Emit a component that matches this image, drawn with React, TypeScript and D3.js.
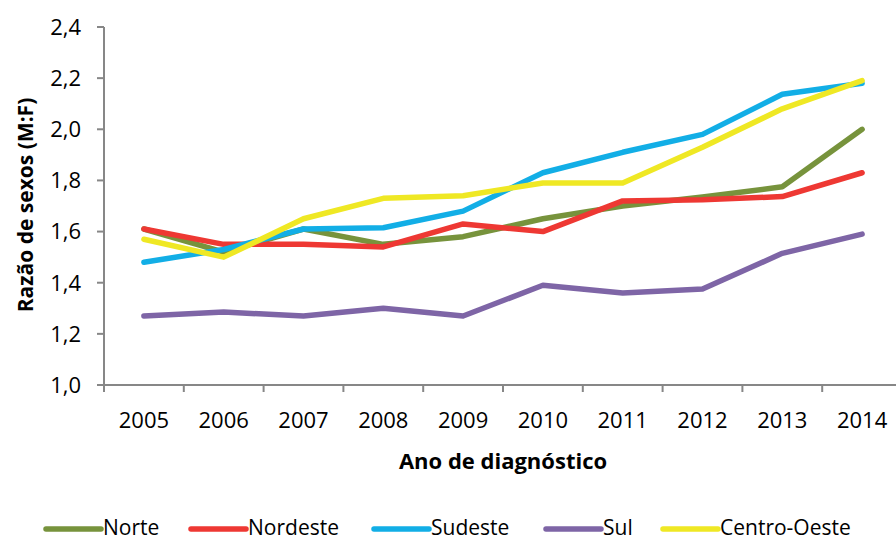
import React from "react";
import * as d3 from "d3";

const years = ["2005", "2006", "2007", "2008", "2009", "2010", "2011", "2012", "2013", "2014"];
const norte = [1.61, 1.52, 1.61, 1.55, 1.58, 1.65, 1.7, 1.735, 1.775, 2.0];
const nordeste = [1.61, 1.55, 1.55, 1.54, 1.63, 1.6, 1.72, 1.724, 1.737, 1.83];
const sudeste = [1.48, 1.53, 1.61, 1.615, 1.68, 1.83, 1.91, 1.98, 2.137, 2.18];
const sul = [1.27, 1.285, 1.27, 1.3, 1.27, 1.39, 1.36, 1.375, 1.515, 1.59];
const centroOeste = [1.57, 1.5, 1.65, 1.73, 1.74, 1.79, 1.79, 1.93, 2.08, 2.19];
const yTicks = [1.0, 1.2, 1.4, 1.6, 1.8, 2.0, 2.2, 2.4];

const series = [
  { name: "Norte", values: norte, color: "#77933C" },
  { name: "Nordeste", values: nordeste, color: "#EE3833" },
  { name: "Sudeste", values: sudeste, color: "#12AEE6" },
  { name: "Sul", values: sul, color: "#7E65A6" },
  { name: "Centro-Oeste", values: centroOeste, color: "#EFE824" },
];

// legend item start positions (line start)
const legendX = [46, 191, 374, 546, 663];

export default function App() {
  const W = 896, H = 542;
  const left = 104, top = 27, bottom = 385, right = 902;
  const x = d3.scaleBand<string>().domain(years).range([left, right]).padding(0);
  const y = d3.scaleLinear().domain([1.0, 2.4]).range([bottom, top]);
  const line = d3
    .line<number>()
    .x((_, i) => (x(years[i]) as number) + x.bandwidth() / 2)
    .y((d) => y(d));
  const font = "'Open Sans', sans-serif";
  const fmt = (v: number) => v.toFixed(1).replace(".", ",");
  const axisColor = "#878787";
  const bounds = years.map((yr) => x(yr) as number).concat([right]);

  return (
    <svg width={W} height={H} style={{ position: "absolute", left: 0, top: 0 }} fontFamily={font}>
      <rect width={W} height={H} fill="#fff" />
      {/* y axis */}
      <line x1={left} x2={left} y1={top} y2={bottom} stroke={axisColor} strokeWidth={2} />
      {yTicks.map((t) => (
        <g key={t}>
          <line x1={left - 7} x2={left} y1={y(t)} y2={y(t)} stroke={axisColor} strokeWidth={2} />
          <text x={81} y={y(t)} dy="0.36em" textAnchor="end" fontSize={22} fill="#000">
            {fmt(t)}
          </text>
        </g>
      ))}
      {/* x axis */}
      <line x1={left - 7} x2={right} y1={bottom} y2={bottom} stroke={axisColor} strokeWidth={2} />
      {bounds.map((b, i) => (
        <line key={i} x1={b} x2={b} y1={bottom} y2={bottom + 7} stroke={axisColor} strokeWidth={2} />
      ))}
      {years.map((yr) => (
        <text
          key={yr}
          x={(x(yr) as number) + x.bandwidth() / 2}
          y={428}
          textAnchor="middle"
          fontSize={22}
          fill="#000"
        >
          {yr}
        </text>
      ))}
      {/* series */}
      {series.map((s) => (
        <path
          key={s.name}
          d={line(s.values) || ""}
          fill="none"
          stroke={s.color}
          strokeWidth={5.5}
          strokeLinecap="round"
          strokeLinejoin="round"
        />
      ))}
      {/* titles */}
      <text
        transform="translate(33,205) rotate(-90)"
        textAnchor="middle"
        fontSize={21}
        fontWeight="bold"
        fill="#000"
      >
        Razão de sexos (M:F)
      </text>
      <text x={503} y={469} textAnchor="middle" fontSize={22} fontWeight="bold" fill="#000">
        Ano de diagnóstico
      </text>
      {/* legend */}
      {series.map((s, i) => (
        <g key={s.name}>
          <line
            x1={legendX[i]}
            x2={legendX[i] + 55}
            y1={529}
            y2={529}
            stroke={s.color}
            strokeWidth={5.5}
            strokeLinecap="round"
          />
          <text x={legendX[i] + 57} y={535} fontSize={21} fill="#000">
            {s.name}
          </text>
        </g>
      ))}
    </svg>
  );
}
